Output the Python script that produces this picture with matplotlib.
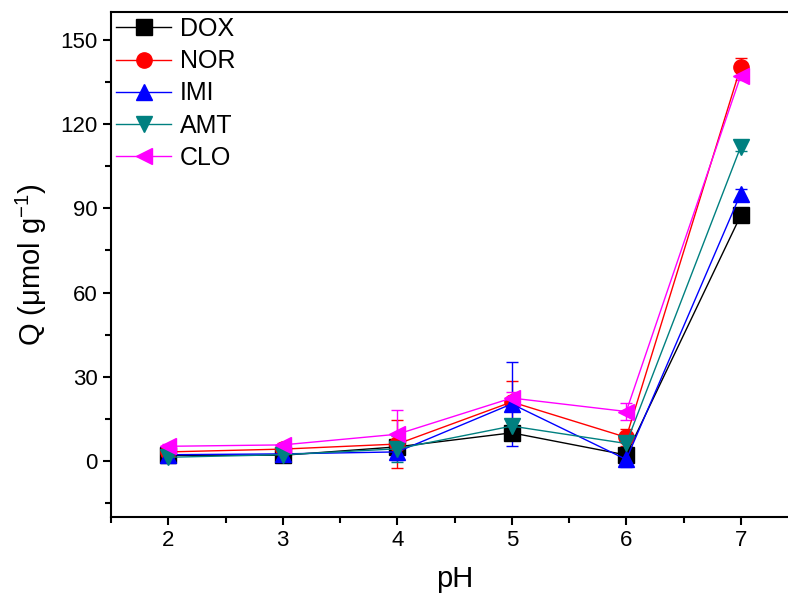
import numpy as np
import matplotlib
matplotlib.use("Agg")
import matplotlib.pyplot as plt
from matplotlib.ticker import MultipleLocator

plt.rcParams['font.family'] = ['Liberation Sans', 'DejaVu Sans']
plt.rcParams['mathtext.fontset'] = 'custom'
plt.rcParams['mathtext.rm'] = 'Liberation Sans'
plt.rcParams['mathtext.it'] = 'Liberation Sans:italic'

# adsorbed amount vs pH for each pharmaceutical
ph = [2, 3, 4, 5, 6, 7]
dox = [2.0, 2.0, 5.0, 10.0, 2.1, 87.5]
nor = [3.2, 4.2, 6.0, 21.0, 8.4, 140.5]
imi = [2.2, 2.5, 3.2, 20.3, 0.5, 95.3]
amt = [1.3, 2.2, 4.3, 12.4, 6.2, 112.0]
clo = [5.2, 5.7, 9.5, 22.4, 17.6, 137.3]

dox_err = [0.6, 0.5, 1.5, 2.0, 1.0, 1.5]
nor_err = [0.8, 0.8, 8.4, 7.3, 3.0, 3.2]
imi_err = [0.8, 0.6, 3.0, 15.1, 2.8, 1.5]
amt_err = [0.6, 0.6, 4.7, 2.0, 1.5, 1.5]
clo_err = [0.8, 0.8, 8.5, 2.0, 3.0, 1.5]

series = [
    ("DOX", dox, dox_err, "black", "s"),
    ("NOR", nor, nor_err, "red", "o"),
    ("IMI", imi, imi_err, "blue", "^"),
    ("AMT", amt, amt_err, "#008080", "v"),
    ("CLO", clo, clo_err, "magenta", "<"),
]

fig = plt.figure(figsize=(7.88, 6.06), dpi=100)
ax = fig.add_axes([111 / 788, 89 / 606, 687 / 788, 505 / 606])

handles = []
for name, vals, err, col, mk in series:
    c = ax.errorbar(ph, vals, yerr=err, color=col, marker=mk, markersize=11,
                    linewidth=1, elinewidth=1, capsize=4, capthick=1, label=name)
    handles.append(c[0])

ax.set_xlim(1.5, 7.5)
ax.set_ylim(-20, 160)
ax.xaxis.set_major_locator(MultipleLocator(1))
ax.xaxis.set_minor_locator(MultipleLocator(0.5))
ax.yaxis.set_major_locator(MultipleLocator(30))
ax.yaxis.set_minor_locator(MultipleLocator(15))

for s in ax.spines.values():
    s.set_linewidth(1.5)
ax.spines['right'].set_visible(False)
ax.tick_params(which='both', direction='out', width=1.5, labelsize=16,
               top=False, right=False)
ax.tick_params(which='major', length=6)
ax.tick_params(which='minor', length=4)

ax.set_xlabel("pH", fontsize=21, labelpad=10)
ax.set_ylabel("Q (μmol g$^{-1}$)", fontsize=21, labelpad=8)

leg = ax.legend(handles, [s[0] for s in series], loc='upper left',
                frameon=False, fontsize=18, handlelength=2.2,
                handletextpad=0.35, labelspacing=0.33, borderaxespad=0.1,
                borderpad=0.1)

fig.savefig("out.png", dpi=100)
